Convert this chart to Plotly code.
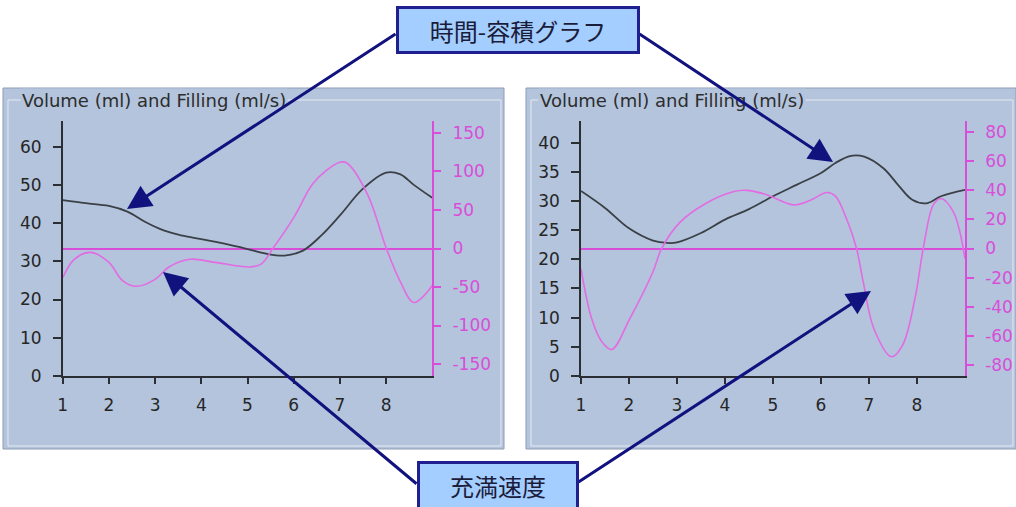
import plotly.graph_objects as go

# ---------------------------------------------------------------------
# Data
# ---------------------------------------------------------------------
x_ticks = [1, 2, 3, 4, 5, 6, 7, 8]

# left panel
left_vol_x = [1, 1.5, 2, 2.4, 2.8, 3.2, 3.6, 4, 4.5, 5, 5.4, 5.8, 6.2, 6.6, 7, 7.5, 8, 8.3, 8.6, 9]
left_vol_y = [46, 45.2, 44.5, 43, 40.2, 38, 36.7, 35.8, 34.6, 33.2, 32, 31.5, 32.8, 36.8, 42, 49, 53.2, 52.8, 50, 46.6]
left_fill_x = [1, 1.25, 1.6, 2, 2.3, 2.6, 3, 3.3, 3.75, 4.3, 5.05, 5.3, 5.55, 6, 6.4, 6.7, 7, 7.15, 7.6, 8, 8.3, 8.6, 9]
left_fill_y = [-38, -14, -5, -18, -42, -49, -40, -24, -14, -18, -24, -20, 0, 40, 83, 101, 112, 111, 70, 1, -42, -70, -48]
left_vol_ticks = [0, 10, 20, 30, 40, 50, 60]
left_fill_ticks = [-150, -100, -50, 0, 50, 100, 150]

# right panel
right_vol_x = [1, 1.5, 2, 2.5, 2.8, 3, 3.5, 4, 4.5, 5, 5.5, 6, 6.3, 6.6, 6.9, 7.3, 7.6, 7.9, 8.2, 8.5, 9]
right_vol_y = [31.7, 28.8, 25.3, 23.2, 22.8, 22.9, 24.5, 26.8, 28.6, 30.8, 32.8, 34.8, 36.5, 37.7, 37.6, 35.6, 32.8, 30.2, 29.6, 30.8, 31.9]
right_fill_x = [1, 1.22, 1.43, 1.64, 2.02, 2.5, 2.68, 3.06, 3.6, 4.17, 4.45, 4.87, 5.42, 5.77, 6.12, 6.3,
                6.53, 6.74, 6.88, 7.1, 7.47, 7.7, 7.96, 8.13, 8.34, 8.5, 8.76, 9]
right_fill_y = [-14, -48, -64, -69.5, -48, -16, 0, 18, 31, 39, 40, 37, 30, 33, 38.5, 36,
                20.6, 0, -23, -55, -74.5, -66.5, -34, 0, 30, 34.4, 25, -7]
right_vol_ticks = [0, 5, 10, 15, 20, 25, 30, 35, 40]
right_fill_ticks = [-80, -60, -40, -20, 0, 20, 40, 60, 80]

panel_title = "Volume (ml) and Filling (ml/s)"
top_label = "時間-容積グラフ"
bottom_label = "充満速度"

# ---------------------------------------------------------------------
# Helpers (pixel -> paper)
# ---------------------------------------------------------------------
W, H = 1016, 507

def px(x):
    return x / W

def py(y):
    return 1 - y / H

PANEL = "#b3c4dc"
DARK = "#2b2f33"
MAG = "#d94ed9"
CURVE_MAG = "#e36be3"
NAVY = "#12127f"
FONT = "DejaVu Sans"
JP = "Noto Sans CJK JP"

fig = go.Figure()

fig.add_trace(go.Scatter(x=left_vol_x, y=left_vol_y, xaxis="x", yaxis="y", mode="lines",
                         line=dict(color="#3a4046", width=1.8, shape="spline")))
fig.add_trace(go.Scatter(x=left_fill_x, y=left_fill_y, xaxis="x", yaxis="y2", mode="lines",
                         line=dict(color=CURVE_MAG, width=1.6, shape="spline")))
fig.add_trace(go.Scatter(x=right_vol_x, y=right_vol_y, xaxis="x2", yaxis="y3", mode="lines",
                         line=dict(color="#3a4046", width=1.8, shape="spline")))
fig.add_trace(go.Scatter(x=right_fill_x, y=right_fill_y, xaxis="x2", yaxis="y4", mode="lines",
                         line=dict(color=CURVE_MAG, width=1.6, shape="spline")))

tick_font = dict(family=FONT, size=17, color="#262626")
mag_font = dict(family=FONT, size=17, color=MAG)

def x_axis(dom, ticks="outside", labels=True, overlay=None, anchor="y"):
    ax = dict(domain=dom, range=[1, 9], anchor=anchor, tickvals=x_ticks,
              ticktext=[str(v) for v in x_ticks], ticks=ticks, ticklen=6,
              tickwidth=1.5, tickcolor=DARK, showgrid=False, zeroline=False,
              showticklabels=labels, tickfont=tick_font, ticklabelstandoff=7)
    if overlay:
        ax["overlaying"] = overlay
        ax["showline"] = False
    else:
        ax.update(showline=True, linecolor=DARK, linewidth=1.5)
    return ax

def y_axis(dom, rng, vals, anchor, side="left", ticks="outside", labels=True, overlay=None,
           color=DARK, font=tick_font, zero=False, length=8):
    # plain hyphen minus as in the original screenshot
    ax = dict(range=rng, anchor=anchor, side=side, tickvals=vals, ticktext=[str(v) for v in vals],
              ticks=ticks, ticklen=length, tickwidth=1.5, tickcolor=color, showgrid=False,
              zeroline=zero, zerolinecolor=MAG, zerolinewidth=1.5, showticklabels=labels,
              tickfont=font, ticklabelstandoff=8)
    if overlay:
        ax["overlaying"] = overlay
    else:
        ax["domain"] = dom
    if labels:
        ax.update(showline=True, linecolor=color, linewidth=1.5)
    else:
        ax["showline"] = False
    return ax

left_x = [px(62.7), px(432.3)]
right_x = [px(581), px(965)]
y_dom = [py(376), py(121)]

fig.update_layout(
    xaxis=x_axis(left_x),
    yaxis=y_axis(y_dom, [0, 66.7], left_vol_ticks, "x"),
    yaxis2=y_axis(None, [-165.5, 165.5], left_fill_ticks, "x", side="right", overlay="y",
                  color=MAG, font=mag_font, zero=True, length=7),
    xaxis2=x_axis(right_x, anchor="y3"),
    yaxis3=y_axis(y_dom, [0, 43.7], right_vol_ticks, "x2"),
    yaxis4=y_axis(None, [-87.7, 87.7], right_fill_ticks, "x2", side="right", overlay="y3",
                  color=MAG, font=mag_font, zero=True, length=7),
    # companion axes so the ticks cross the axis lines
    xaxis5=x_axis(left_x, ticks="inside", labels=False, overlay="x"),
    yaxis5=y_axis(None, [0, 66.7], left_vol_ticks, "x", ticks="inside", labels=False, overlay="y", length=9),
    yaxis6=y_axis(None, [-165.5, 165.5], left_fill_ticks, "x", side="right", ticks="inside",
                  labels=False, overlay="y", color=MAG, length=7),
    xaxis6=x_axis(right_x, ticks="inside", labels=False, overlay="x2", anchor="y3"),
    yaxis7=y_axis(None, [0, 43.7], right_vol_ticks, "x2", ticks="inside", labels=False, overlay="y3", length=9),
    yaxis8=y_axis(None, [-87.7, 87.7], right_fill_ticks, "x2", side="right", ticks="inside",
                  labels=False, overlay="y3", color=MAG, length=7),
)

# ---------------------------------------------------------------------
# Panels (group boxes)
# ---------------------------------------------------------------------
for x0, x1 in [(3, 504), (526, 1016)]:
    fig.add_shape(type="rect", xref="paper", yref="paper", layer="below",
                  x0=px(x0), x1=px(x1), y0=py(449), y1=py(88),
                  fillcolor=PANEL, line=dict(color="#8e9db3", width=1))
    fig.add_shape(type="rect", xref="paper", yref="paper", layer="below",
                  x0=px(x0 + 5), x1=px(x1 - 3), y0=py(446), y1=py(100),
                  line=dict(color="#e4eaf2", width=1))

annotations = []
for tx in [20, 538]:
    annotations.append(dict(text=panel_title, x=px(tx), y=py(100), xref="paper", yref="paper",
                            xanchor="left", yanchor="middle", showarrow=False, bgcolor=PANEL,
                            borderpad=1, font=dict(family=FONT, size=18, color="#2d2d2d")))

# arrows: tip, tail (pixels)
arrows = [((127, 209), (397, 33)), ((833, 162), (638, 33)),
          ((163, 272), (418, 485)), ((871, 291), (577, 483))]
for (tx, ty), (sx, sy) in arrows:
    annotations.append(dict(text="", x=px(tx), y=py(ty), xref="paper", yref="paper",
                            ax=sx - tx, ay=sy - ty, showarrow=True, arrowhead=2, arrowsize=1.6,
                            arrowwidth=3, arrowcolor=NAVY, standoff=0))

for text, cx, cy, w, h in [(top_label, 517.5, 30.5, 238, 42), (bottom_label, 497.5, 485.5, 156, 43)]:
    annotations.append(dict(text=text, x=px(cx), y=py(cy), xref="paper", yref="paper",
                            xanchor="center", yanchor="middle", showarrow=False, width=w, height=h,
                            bgcolor="#a3ceff", bordercolor="#1f1f8f", borderwidth=3, borderpad=0,
                            font=dict(family=JP, size=24, color="#1b1b3a")))

fig.update_layout(
    annotations=annotations,
    width=W, height=H,
    # keep the paper exactly the page: the bottom label box runs off the edge
    margin=dict(l=0, r=0, t=0, b=0, autoexpand=False),
    paper_bgcolor="white",
    plot_bgcolor="rgba(0,0,0,0)",
    showlegend=False,
)

page_css = ("document.documentElement.style.margin = '0';"
            "document.body.style.margin = '0';"
            "document.documentElement.style.overflow = 'hidden';"
            "document.body.style.overflow = 'hidden';")
fig.write_html("out.html", config={"displayModeBar": False}, post_script=page_css)
